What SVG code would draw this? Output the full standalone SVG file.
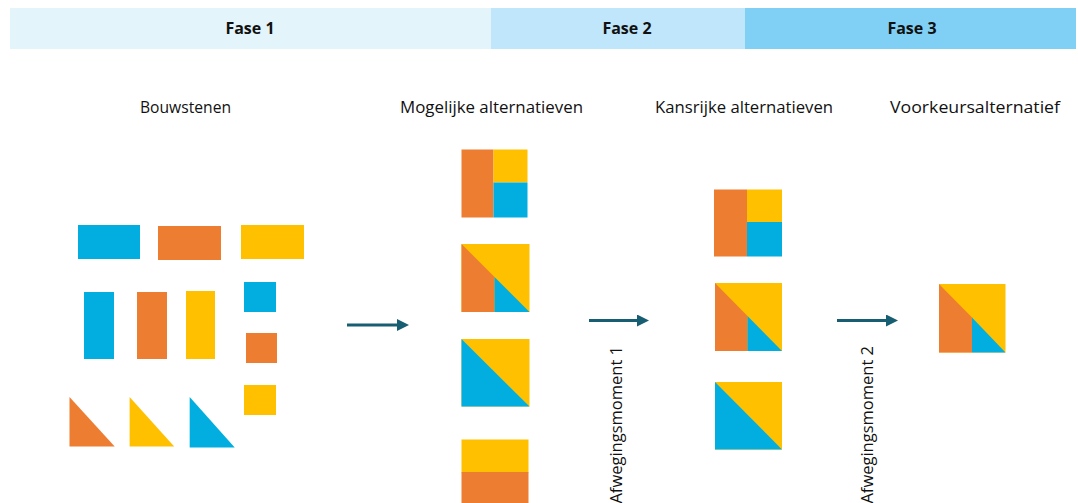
<svg xmlns="http://www.w3.org/2000/svg" width="1078" height="503" viewBox="0 0 1078 503">
<style>
.b{fill:#02aedf}.o{fill:#ed7d31}.y{fill:#ffc000}
.ph{font-family:"Open Sans","Liberation Sans",sans-serif;font-size:16px;font-weight:bold;fill:#111;text-anchor:middle}
.t{font-family:"Open Sans","Liberation Sans",sans-serif;font-size:16px;fill:#111;text-anchor:middle}
.r{font-family:"Open Sans","Liberation Sans",sans-serif;font-size:16.5px;fill:#111;text-anchor:end}
.ar{stroke:#175e72;stroke-width:3;fill:none}
</style>
<defs>
<marker id="ah" markerWidth="4" markerHeight="4" refX="0" refY="2" orient="auto" markerUnits="strokeWidth">
<path d="M0,0 L4,2 L0,4 Z" fill="#175e72"/>
</marker>
</defs>
<rect width="1078" height="503" fill="#fff"/>
<g id="phases">
<rect x="10" y="8" width="481" height="41" fill="#e3f4fb"/>
<rect x="491" y="8" width="254" height="41" fill="#bfe6fa"/>
<rect x="745" y="8" width="331" height="41" fill="#80d0f5"/>
<text class="ph" x="250" y="34">Fase 1</text>
<text class="ph" x="627" y="34">Fase 2</text>
<text class="ph" x="912" y="34">Fase 3</text>
</g>
<g id="titles">
<text class="t" x="185.5" y="113" textLength="91" lengthAdjust="spacingAndGlyphs">Bouwstenen</text>
<text class="t" x="491.5" y="113" textLength="183" lengthAdjust="spacingAndGlyphs">Mogelijke alternatieven</text>
<text class="t" x="744" y="113" textLength="178" lengthAdjust="spacingAndGlyphs">Kansrijke alternatieven</text>
<text class="t" x="975" y="113" textLength="170" lengthAdjust="spacingAndGlyphs">Voorkeursalternatief</text>
</g>
<g id="bouwstenen">
<rect class="b" x="78" y="225" width="62" height="34"/>
<rect class="o" x="158" y="226" width="63" height="34"/>
<rect class="y" x="241" y="225" width="63" height="34"/>
<rect class="b" x="84" y="292" width="30" height="67"/>
<rect class="o" x="137" y="292" width="30" height="67"/>
<rect class="y" x="186" y="291" width="29" height="68"/>
<rect class="b" x="244" y="282" width="32" height="30"/>
<rect class="o" x="246" y="333" width="31" height="30"/>
<rect class="y" x="244" y="385" width="32" height="30"/>
<polygon class="o" points="69.5,397 69.5,446.5 114.7,446.5"/>
<polygon class="y" points="129.6,397 129.6,446.5 174.2,446.5"/>
<polygon class="b" points="189.7,397 189.7,447.5 234.7,447.5"/>
</g>
<g id="mogelijk1">
<rect class="o" x="461.5" y="149.5" width="32" height="68"/>
<rect class="y" x="493.5" y="149.5" width="34" height="33"/>
<rect class="b" x="493.5" y="182.5" width="34" height="35"/>
</g>
<g id="mogelijk2">
<rect class="y" x="461.5" y="244" width="68" height="68"/>
<polygon class="o" points="461.5,244 494.5,277 494.5,312 461.5,312"/>
<polygon class="b" points="494.5,277 529.5,312 494.5,312"/>
</g>
<g id="mogelijk3">
<rect class="y" x="461.5" y="339" width="68" height="67.5"/>
<polygon class="b" points="461.5,339 529.5,406.5 461.5,406.5"/>
</g>
<g id="mogelijk4">
<rect class="y" x="461.5" y="439.5" width="67" height="33"/>
<rect class="o" x="461.5" y="472" width="67" height="31"/>
</g>
<g id="kansrijk1">
<rect class="o" x="714" y="189.5" width="33" height="67"/>
<rect class="y" x="747" y="189.5" width="35" height="32.5"/>
<rect class="b" x="747" y="222" width="35" height="34.5"/>
</g>
<g id="kansrijk2">
<rect class="y" x="715" y="283" width="67" height="68"/>
<polygon class="o" points="715,283 747.5,316 747.5,351 715,351"/>
<polygon class="b" points="747.5,316 782,351 747.5,351"/>
</g>
<g id="kansrijk3">
<rect class="y" x="715" y="382" width="67" height="67.5"/>
<polygon class="b" points="715,382 782,449.5 715,449.5"/>
</g>
<g id="voorkeur">
<rect class="y" x="939" y="284" width="66.5" height="68.5"/>
<polygon class="o" points="939,284 972,317.5 972,352.5 939,352.5"/>
<polygon class="b" points="972,317.5 1005.5,352.5 972,352.5"/>
</g>
<g id="connectors">
<line class="ar" x1="347" y1="325" x2="397" y2="325" marker-end="url(#ah)"/>
<line class="ar" x1="589" y1="320.5" x2="637" y2="320.5" marker-end="url(#ah)"/>
<line class="ar" x1="837" y1="320.5" x2="886" y2="320.5" marker-end="url(#ah)"/>
</g>
<g id="labels">
<text class="r" transform="translate(622,346) rotate(-90)">Afwegingsmoment 1</text>
<text class="r" transform="translate(873,346) rotate(-90)">Afwegingsmoment 2</text>
</g>
</svg>
